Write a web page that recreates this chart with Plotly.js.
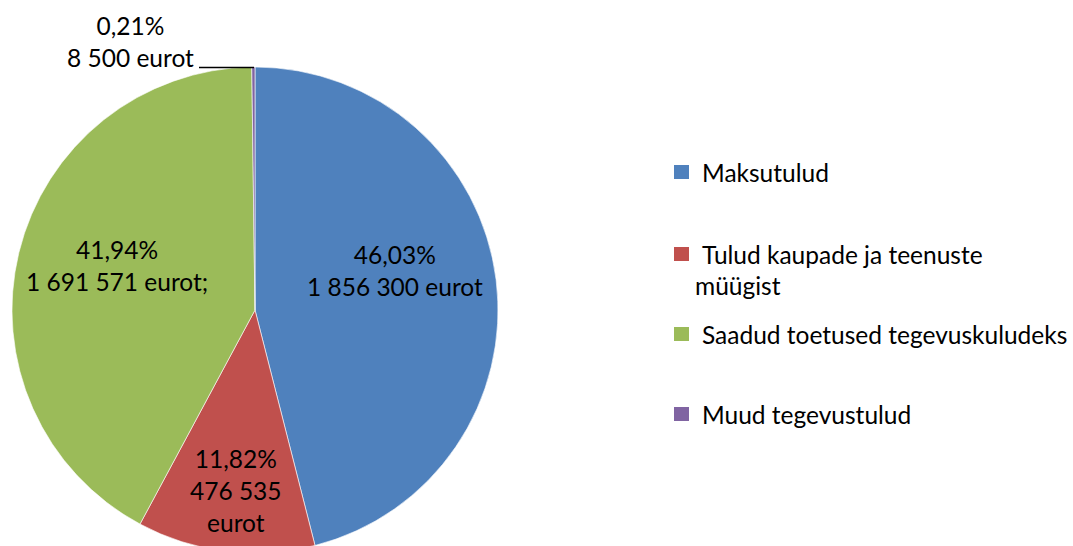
<!DOCTYPE html>
<html><head><meta charset="utf-8">
<script src="https://cdn.plot.ly/plotly-3.0.1.min.js"></script>
<style>html,body{margin:0;padding:0;overflow:hidden;background:#fff}#c{width:1073px;height:560px}</style>
</head><body><div id="c"></div>
<script>
const categories = ["Maksutulud", "Tulud kaupade ja teenuste müügist", "Saadud toetused tegevuskuludeks", "Muud tegevustulud"];
const legendLines = [["Maksutulud"], ["Tulud kaupade ja teenuste", "müügist"], ["Saadud toetused tegevuskuludeks"], ["Muud tegevustulud"]];
const values = [1856300, 476535, 1691571, 8500];
const pctLabels = ["46,03%", "11,82%", "41,94%", "0,21%"];
const amountLabels = ["1 856 300 eurot", "476 535<br>eurot", "1 691 571 eurot;", "8 500 eurot"];
const colors = ["#4F81BD", "#C0504D", "#9BBB59", "#8064A2"];

const W = 1073, H = 560;
const px = x => x / W, py = y => (H - y) / H;
const FONT = "Lato, 'Open Sans', sans-serif";
const fs = 24.5;

const trace = {
  type: "pie", values: values, labels: categories, sort: false, direction: "clockwise", rotation: 0,
  marker: {colors: colors, line: {color: "#fff", width: 0.6}},
  textinfo: "none", hoverinfo: "label+value+percent", showlegend: false,
  domain: {x: [px(12), px(498)], y: [py(553), py(67)]}
};

const labelPos = [[395, 271], [236, 490], [117, 265], [130, 42]];
const annotations = values.map((v, i) => ({
  xref: "paper", yref: "paper", x: px(labelPos[i][0]), y: py(labelPos[i][1]),
  text: pctLabels[i] + "<br>" + amountLabels[i], showarrow: false,
  xanchor: "center", yanchor: "middle", align: "center",
  font: {family: FONT, size: fs, color: "#000"}
}));

const legendY = [172, 254, 334, 414];
const shapes = [];
legendY.forEach((y, i) => {
  shapes.push({type: "rect", xref: "paper", yref: "paper", x0: px(674), x1: px(689), y0: py(y + 7), y1: py(y - 7),
    fillcolor: colors[i], line: {width: 0}});
  legendLines[i].forEach((t, j) => {
    annotations.push({xref: "paper", yref: "paper", x: px(j === 0 ? 700 : 693), y: py(y + j * 31),
      text: t, showarrow: false, xanchor: "left", yanchor: "middle",
      font: {family: FONT, size: fs, color: "#000"}});
  });
});
// leader line for small slice
shapes.push({type: "line", xref: "paper", yref: "paper", x0: px(199), x1: px(254), y0: py(67.5), y1: py(67.5),
  line: {color: "#000", width: 1.5}});

Plotly.newPlot("c", [trace], {
  width: W, height: H, margin: {l: 0, r: 0, t: 0, b: 0},
  paper_bgcolor: "#fff", plot_bgcolor: "#fff",
  annotations: annotations, shapes: shapes, showlegend: false
}, {displayModeBar: false, staticPlot: true});
</script></body></html>
